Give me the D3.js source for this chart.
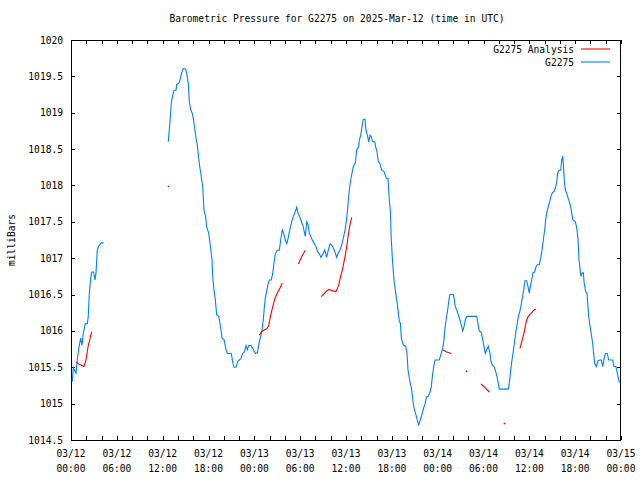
<!DOCTYPE html>
<html><head><meta charset="utf-8">
<script src="https://cdn.jsdelivr.net/npm/d3@7"></script>
<style>body{margin:0;background:#fff}svg{display:block}text{font-family:"DejaVu Sans Mono","Liberation Mono",monospace;font-size:9.6px;fill:#000}</style>
</head><body><svg id="c" width="640" height="480"></svg>
<script>
const title = "Barometric Pressure for G2275 on 2025-Mar-12 (time in UTC)";
const yLabel = "milliBars";
const seriesNames = ["G2275 Analysis", "G2275"];
const yTicks = [1014.5,1015,1015.5,1016,1016.5,1017,1017.5,1018,1018.5,1019,1019.5,1020];
const xTickHours = [0,6,12,18,24,30,36,42,48,54,60,66,72];
const xTickLabels = [["03/12","00:00"],["03/12","06:00"],["03/12","12:00"],["03/12","18:00"],["03/13","00:00"],["03/13","06:00"],["03/13","12:00"],["03/13","18:00"],["03/14","00:00"],["03/14","06:00"],["03/14","12:00"],["03/14","18:00"],["03/15","00:00"]];

// hours since 03/12 00:00 UTC; null = gap
const stationHours = [0.17,0.30,0.65,0.82,1.05,1.27,1.44,1.61,1.87,2.13,2.26,2.40,2.58,2.71,2.97,3.14,3.27,3.44,3.70,3.97,4.28,null,
12.74,12.83,12.96,13.13,13.31,13.48,13.75,13.84,14.14,14.31,14.49,14.70,15.01,15.14,15.36,15.49,15.67,15.88,16.01,16.19,16.36,16.53,16.72,16.85,17.06,17.24,17.41,17.63,17.76,18.03,18.20,18.46,18.55,18.72,18.89,19.07,19.34,19.60,19.77,20.03,20.25,20.46,20.98,21.21,21.34,21.60,21.82,22.03,22.25,22.48,22.69,22.91,23.08,23.26,23.56,23.79,24.13,24.39,24.65,24.87,25.00,25.17,25.30,25.44,25.62,25.83,25.96,26.22,26.40,26.57,26.74,27.01,27.27,27.45,27.66,27.84,28.05,28.24,28.41,28.58,28.80,29.02,29.28,29.55,29.72,29.98,30.20,30.41,30.54,30.67,30.86,31.03,31.20,31.38,31.59,31.85,32.07,32.29,32.50,32.73,32.99,33.21,33.47,33.64,33.91,34.13,34.34,34.60,34.78,34.99,35.21,35.48,35.70,35.91,36.09,36.22,36.35,36.52,36.69,36.96,37.22,37.40,37.66,37.74,37.92,38.13,38.26,38.49,38.62,38.84,38.97,39.14,39.31,39.49,39.76,39.89,40.06,40.23,40.45,40.67,40.97,41.14,41.27,41.50,41.67,41.80,41.93,42.11,42.28,42.45,42.64,42.81,42.98,43.12,43.25,43.47,43.81,43.99,44.12,44.34,44.56,44.73,44.86,45.04,45.22,45.39,45.52,45.74,45.91,46.17,46.36,46.53,46.77,47.00,47.17,47.30,47.48,47.65,48.21,48.40,48.66,48.83,48.96,49.13,49.31,49.48,49.61,50.05,50.18,50.31,50.49,50.70,50.92,51.09,51.28,51.45,51.62,51.80,53.11,53.28,53.45,53.71,53.90,54.07,54.24,54.42,54.63,54.85,54.98,55.15,55.37,55.54,55.73,55.90,56.07,57.25,57.43,57.56,57.73,57.86,58.03,58.21,58.38,58.56,58.74,58.91,59.08,59.26,59.43,59.65,59.83,60.00,60.13,60.31,60.48,60.70,60.87,61.04,61.30,61.49,61.66,61.83,62.01,62.14,62.31,62.48,62.67,62.84,63.01,63.27,63.45,63.58,63.71,63.88,64.11,64.24,64.37,64.45,64.58,64.71,64.89,65.10,65.32,65.49,65.68,66.02,66.20,66.37,66.50,66.63,66.76,66.89,67.06,67.19,67.38,67.55,67.64,67.77,67.90,68.03,68.16,68.29,68.42,68.55,68.77,68.99,69.25,69.42,69.60,69.78,69.95,70.21,70.39,70.91,71.08,71.34,71.47,71.61,71.78];
const stationValues = [1015.30,1015.49,1015.42,1015.60,1015.78,1015.90,1015.80,1015.97,1016.10,1016.10,1016.20,1016.52,1016.72,1016.81,1016.81,1016.70,1016.79,1017.11,1017.18,1017.21,1017.21,null,
1018.60,1018.72,1018.88,1019.13,1019.24,1019.31,1019.31,1019.39,1019.41,1019.47,1019.55,1019.61,1019.60,1019.54,1019.40,1019.15,1019.04,1018.99,1018.92,1018.79,1018.65,1018.56,1018.37,1018.26,1018.12,1017.98,1017.66,1017.57,1017.43,1017.34,1017.20,1016.98,1016.75,1016.56,1016.43,1016.22,1016.20,1016.04,1015.90,1015.88,1015.76,1015.69,1015.69,1015.55,1015.50,1015.50,1015.58,1015.60,1015.62,1015.69,1015.71,1015.80,1015.74,1015.80,1015.80,1015.76,1015.69,1015.70,1015.85,1015.94,1016.01,1016.15,1016.31,1016.45,1016.55,1016.66,1016.70,1016.70,1016.79,1016.93,1017.06,1017.11,1017.11,1017.25,1017.39,1017.34,1017.25,1017.20,1017.27,1017.36,1017.46,1017.55,1017.62,1017.70,1017.62,1017.56,1017.49,1017.43,1017.36,1017.30,1017.50,1017.46,1017.34,1017.30,1017.25,1017.20,1017.16,1017.09,1017.06,1017.01,1017.06,1017.11,1017.01,1017.09,1017.20,1017.18,1017.14,1017.07,1017.01,1017.07,1017.11,1017.20,1017.30,1017.41,1017.55,1017.69,1017.85,1018.01,1018.12,1018.26,1018.31,1018.49,1018.53,1018.62,1018.69,1018.83,1018.91,1018.91,1018.76,1018.67,1018.60,1018.69,1018.67,1018.60,1018.60,1018.53,1018.46,1018.33,1018.30,1018.21,1018.19,1018.14,1018.10,1018.10,1017.80,1017.66,1017.25,1016.93,1016.70,1016.56,1016.43,1016.29,1016.13,1016.11,1015.90,1015.81,1015.79,1015.69,1015.46,1015.32,1015.21,1015.07,1014.96,1014.89,1014.82,1014.75,1014.71,1014.78,1014.84,1014.94,1015.00,1015.09,1015.10,1015.16,1015.23,1015.37,1015.51,1015.60,1015.60,1015.67,1015.76,1015.88,1016.04,1016.17,1016.29,1016.43,1016.50,1016.50,1016.43,1016.33,1016.29,1016.22,1016.15,1016.08,1016.00,1016.06,1016.15,1016.20,1016.20,1016.10,1016.00,1015.98,1015.88,1015.78,1015.69,1015.74,1015.79,1015.69,1015.58,1015.53,1015.51,1015.46,1015.39,1015.30,1015.20,1015.20,1015.32,1015.46,1015.60,1015.69,1015.82,1015.97,1016.08,1016.20,1016.26,1016.35,1016.45,1016.56,1016.69,1016.69,1016.61,1016.52,1016.61,1016.70,1016.80,1016.81,1016.88,1016.91,1016.91,1017.00,1017.11,1017.25,1017.39,1017.53,1017.64,1017.71,1017.78,1017.85,1017.90,1017.92,1017.98,1018.05,1018.17,1018.21,1018.21,1018.35,1018.40,1018.30,1018.07,1017.94,1017.89,1017.82,1017.75,1017.66,1017.53,1017.50,1017.42,1017.27,1016.98,1016.86,1016.75,1016.79,1016.80,1016.65,1016.54,1016.52,1016.38,1016.20,1016.10,1016.01,1015.92,1015.83,1015.69,1015.55,1015.51,1015.59,1015.60,1015.60,1015.51,1015.62,1015.69,1015.69,1015.60,1015.60,1015.51,1015.51,1015.44,1015.37,1015.29];

const analysisHours = [0.65,1.09,1.70,1.96,2.23,2.71,null,12.74,null,24.65,25.04,25.62,25.88,26.05,26.40,26.71,27.01,27.36,27.66,null,29.76,30.20,30.67,null,32.77,33.47,33.77,34.26,34.69,35.04,35.30,35.57,35.87,36.09,36.30,36.52,36.75,null,48.66,49.18,49.78,null,51.75,null,53.67,54.20,54.76,null,56.72,null,58.78,59.00,59.30,59.60,59.86,60.22,60.53,60.84];
const analysisValues = [1015.57,1015.54,1015.51,1015.60,1015.78,1015.99,null,1017.99,null,1015.94,1016.00,1016.03,1016.07,1016.17,1016.33,1016.45,1016.52,1016.59,1016.66,null,1016.92,1017.02,1017.11,null,1016.47,1016.55,1016.57,1016.55,1016.54,1016.63,1016.75,1016.86,1017.02,1017.16,1017.32,1017.46,1017.56,null,1015.74,1015.71,1015.69,null,1015.45,null,1015.27,1015.22,1015.16,null,1014.73,null,1015.76,1015.85,1015.97,1016.13,1016.20,1016.24,1016.28,1016.30];

const colors = ["#ff0000", "#0080ff"];
const L = 71, R = 621, T = 40, B = 440;
const svg = d3.select("#c");
const x = d3.scaleLinear().domain([0,72]).range([L,R]);
const y = d3.scaleLinear().domain([1014.5,1020]).range([B,T]);

svg.append("text").attr("x",337).attr("y",22).attr("text-anchor","middle").text(title);
svg.append("text").attr("transform","translate(15,"+((T+B)/2)+") rotate(-90)").attr("text-anchor","middle").text(yLabel);

const minor = d3.range(0,73,2);
const gB = svg.append("g").attr("transform","translate(0,"+B+")")
  .call(d3.axisBottom(x).tickValues(minor).tickSizeInner(-4).tickSizeOuter(0).tickFormat(""));
const gT = svg.append("g").attr("transform","translate(0,"+T+")")
  .call(d3.axisTop(x).tickValues(minor).tickSizeInner(-4).tickSizeOuter(0).tickFormat(""));
const gL = svg.append("g").attr("transform","translate("+L+",0)")
  .call(d3.axisLeft(y).tickValues(yTicks).tickSizeInner(-4).tickSizeOuter(0).tickFormat(""));
const gR = svg.append("g").attr("transform","translate("+R+",0)")
  .call(d3.axisRight(y).tickValues(yTicks).tickSizeInner(-4).tickSizeOuter(0).tickFormat(""));
[gB,gT,gL,gR].forEach(g=>{g.select(".domain").remove();g.selectAll("line").attr("stroke","#000").attr("shape-rendering","crispEdges");});

svg.selectAll(".yl").data(yTicks).enter().append("text")
  .attr("x",L-8).attr("y",d=>y(d)+3.5).attr("text-anchor","end").text(d=>d3.format("")(d));
xTickHours.forEach((h,i)=>{
  const t = svg.append("text").attr("x",x(h)).attr("y",B+17).attr("text-anchor","middle");
  t.append("tspan").attr("x",x(h)).text(xTickLabels[i][0]);
  t.append("tspan").attr("x",x(h)).attr("dy",15).text(xTickLabels[i][1]);
});

svg.append("rect").attr("x",L+0.5).attr("y",T+0.5).attr("width",R-L-1).attr("height",B-T)
  .attr("fill","none").attr("stroke","#000").attr("shape-rendering","crispEdges");

function draw(hours, values, color){
  const pts = hours.map((h,i)=>[h, values[i]]);
  const line = d3.line().defined(d=>d[0]!==null && d[1]!==null).x(d=>x(d[0])).y(d=>y(d[1])).curve(d3.curveLinear);
  svg.append("path").datum(pts).attr("d",line).attr("fill","none").attr("stroke",color).attr("stroke-width",1.1);
  const iso = pts.filter((d,i)=>d[0]!==null && (i===0||pts[i-1][0]===null) && (i===pts.length-1||pts[i+1][0]===null));
  svg.selectAll(null).data(iso).enter().append("rect")
    .attr("x",d=>x(d[0])-0.5).attr("y",d=>y(d[1])-0.5).attr("width",1.5).attr("height",1.5).attr("fill",color);
}
draw(stationHours, stationValues, colors[1]);
draw(analysisHours, analysisValues, colors[0]);

seriesNames.forEach((n,i)=>{
  const ly = 49 + i*13;
  svg.append("text").attr("x",574).attr("y",ly+3.5).attr("text-anchor","end").text(n);
  svg.append("line").attr("x1",581).attr("x2",610).attr("y1",ly).attr("y2",ly).attr("stroke",colors[i]).attr("stroke-width",1.1);
});
</script></body></html>
